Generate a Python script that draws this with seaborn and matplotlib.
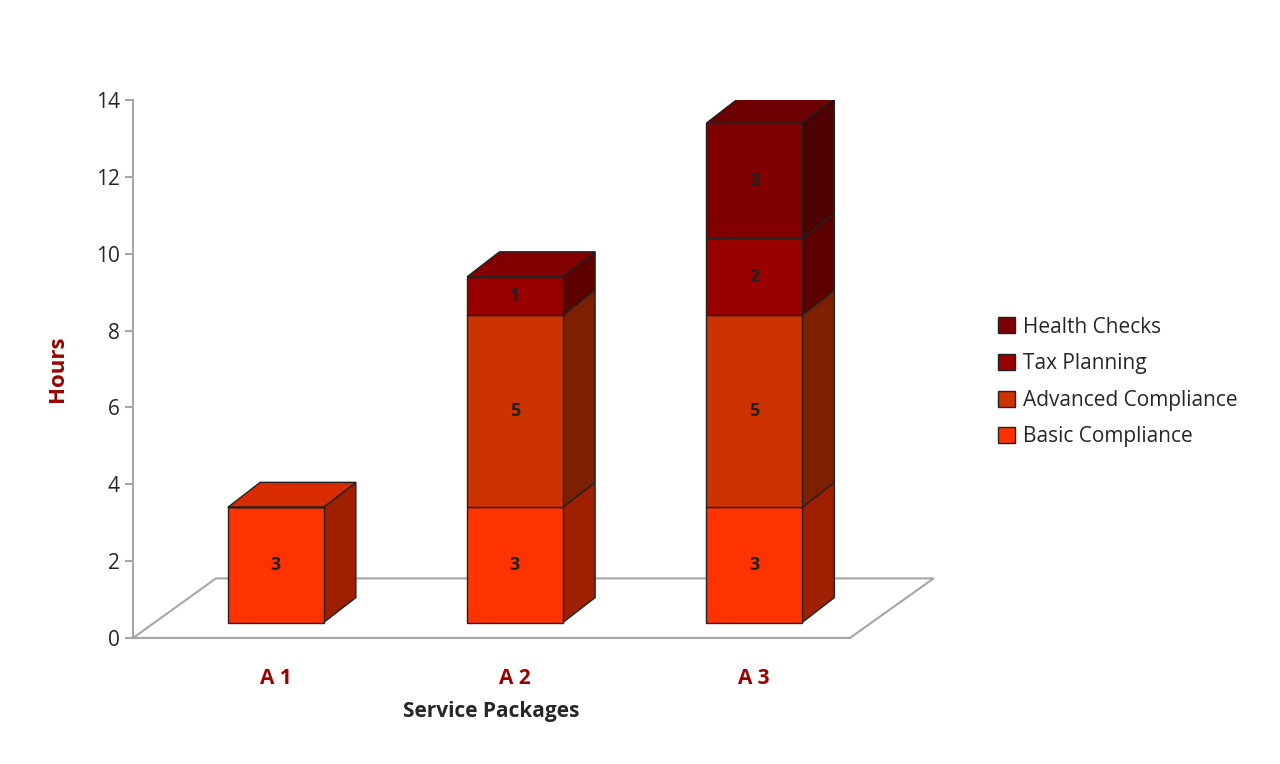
import numpy as np
import matplotlib
matplotlib.use("Agg")
import matplotlib.pyplot as plt
from matplotlib.patches import Polygon, Patch
import seaborn as sns

packages = ["A 1", "A 2", "A 3"]
series = ["Basic Compliance", "Advanced Compliance", "Tax Planning", "Health Checks"]
basic = [3, 3, 3]
advanced = [0, 5, 5]
tax = [0, 1, 2]
health = [0, 0, 3]
colors = ["#FF3300", "#CC3300", "#990000", "#800000"]

sns.set_style("white")
plt.rcParams["font.family"] = ["Open Sans", "DejaVu Sans"]

fig = plt.figure(figsize=(12.8, 7.64), dpi=100)
ax = fig.add_axes([0.104, 0.165, 0.56, 0.704])

base = 0.4      # bars sit on the 3d floor
w = 0.4
dx, dy = 0.135, 0.65


def shade(c, f):
    r, g, b = matplotlib.colors.to_rgb(c)
    return (r * f, g * f, b * f)


# floor
ax.add_patch(Polygon([(-0.596, 0), (2.4, 0), (2.75, 1.55), (-0.25, 1.55)],
                     closed=True, facecolor="white", edgecolor="#a6a6a6",
                     lw=1.5, zorder=1, clip_on=False))

x = np.arange(len(packages))
bottoms = np.full(len(packages), base, dtype=float)
for vals, col in zip([basic, advanced, tax, health], colors):
    vals = np.array(vals, dtype=float)
    ax.bar(x, vals, width=w, bottom=bottoms, color=col, edgecolor="#222222",
           lw=1, zorder=3)
    for xi, b, v in zip(x, bottoms, vals):
        if v == 0:
            continue
        l, r = xi - w / 2, xi + w / 2
        ax.add_patch(Polygon([(r, b), (r + dx, b + dy), (r + dx, b + v + dy), (r, b + v)],
                             closed=True, facecolor=shade(col, 0.62),
                             edgecolor="#222222", lw=1, zorder=2))
        ax.text(xi, b + v / 2, f"{int(v)}", ha="center", va="center",
                fontsize=13, fontweight="bold", color="#222222", zorder=4)
    bottoms += vals

# top faces
for xi, top, vlist in zip(x, bottoms, zip(basic, advanced, tax, health)):
    col = colors[max(i for i, v in enumerate(vlist) if v > 0)]
    l, r = xi - w / 2, xi + w / 2
    ax.add_patch(Polygon([(l, top), (r, top), (r + dx, top + dy), (l + dx, top + dy)],
                         closed=True, facecolor=shade(col, 0.85),
                         edgecolor="#222222", lw=1, zorder=2))

ax.set_xlim(-0.596, 2.4)
ax.set_ylim(0, 14)
ax.set_yticks(range(0, 15, 2))
ax.set_xticks(x)
ax.set_xticklabels(packages, fontsize=15, fontweight="bold", color="#990000")
ax.tick_params(axis="x", length=0, pad=22)
ax.set_xticks([0.5, 1.5, 2.4], minor=True)
ax.tick_params(axis="x", which="minor", length=8, color="#a6a6a6", width=1.5)
ax.tick_params(axis="y", labelsize=15, length=6, color="#a6a6a6", width=1.5,
               left=True, direction="out")
for s in ["top", "right"]:
    ax.spines[s].set_visible(False)
for s in ["left", "bottom"]:
    ax.spines[s].set_color("#a6a6a6")
    ax.spines[s].set_linewidth(1.5)
ax.set_xlabel("Service Packages", fontsize=15, fontweight="bold", labelpad=8)
ax.set_ylabel("Hours", fontsize=16, fontweight="bold", color="#990000", labelpad=20)

handles = [Patch(facecolor=c, edgecolor="#222222", label=s)
           for s, c in zip(series, colors)][::-1]
fig.legend(handles=handles, loc="center left", bbox_to_anchor=(0.765, 0.5),
           frameon=False, fontsize=15, handlelength=0.8, handleheight=0.8,
           labelspacing=0.75, handletextpad=0.4)

fig.savefig("out.png", dpi=100)
